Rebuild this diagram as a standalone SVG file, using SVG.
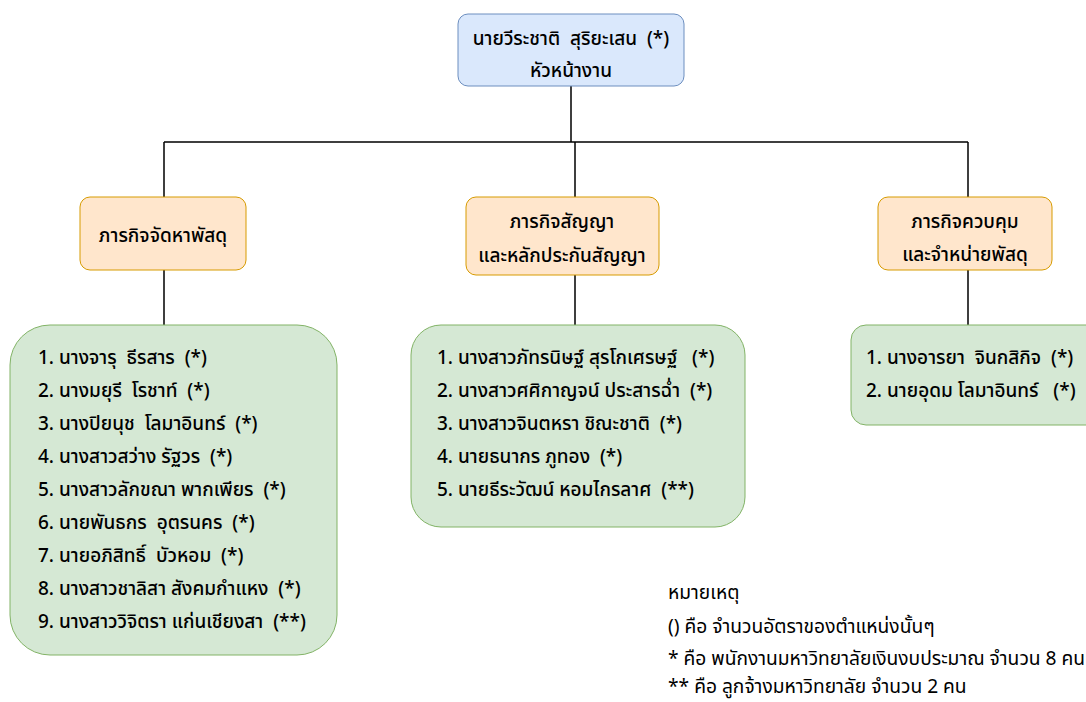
<svg xmlns="http://www.w3.org/2000/svg" width="1086" height="702" viewBox="0 0 1086 702">
<style>
text{font-family:Tahoma,"Noto Sans Thai","Noto Sans","DejaVu Sans",sans-serif;font-size:19px;font-weight:500;fill:#000;white-space:pre}
.c{text-anchor:middle}
.lg{font-size:19.2px;font-weight:400}
.blue{fill:#dae8fc;stroke:#6c8ebf;stroke-width:1}
.org{fill:#ffe6cc;stroke:#d79b00;stroke-width:1}
.grn{fill:#d5e8d4;stroke:#82b366;stroke-width:1}
.ln{stroke:#000;stroke-width:1.5;fill:none}
</style>
<rect width="1086" height="702" fill="#fff"/>
<g id="connectors">
<path class="ln" d="M571 86V142M164 142H968M164 142V197M575 142V197M968 142V197"/>
<path class="ln" d="M164 270V325M575 275V325M968 270V325"/>
</g>
<g id="head">
<rect class="blue" x="458" y="14" width="226" height="72" rx="10"/>
<text class="c" x="571" y="45" xml:space="preserve">นายวีระชาติ  สุริยะเสน  (*)</text>
<text class="c" x="571" y="77">หัวหน้างาน</text>
</g>
<g id="task1">
<rect class="org" x="80" y="197" width="166" height="73" rx="10"/>
<text class="c" x="163" y="242">ภารกิจจัดหาพัสดุ</text>
</g>
<g id="task2">
<rect class="org" x="466" y="197" width="193" height="78" rx="10"/>
<text class="c" x="562" y="228">ภารกิจสัญญา</text>
<text class="c" x="562" y="262">และหลักประกันสัญญา</text>
</g>
<g id="task3">
<rect class="org" x="878" y="197" width="174" height="73" rx="10"/>
<text class="c" x="965" y="228">ภารกิจควบคุม</text>
<text class="c" x="965" y="261">และจำหน่ายพัสดุ</text>
</g>
<g id="staff1" xml:space="preserve">
<rect class="grn" x="10" y="325" width="327" height="330" rx="40"/>
<text x="38" y="364">1. นางจารุ  ธีรสาร  (*)</text>
<text x="38" y="397">2. นางมยุรี  โรชาท์  (*)</text>
<text x="38" y="430">3. นางปิยนุช  โลมาอินทร์  (*)</text>
<text x="38" y="463">4. นางสาวสว่าง รัฐวร  (*)</text>
<text x="38" y="496">5. นางสาวลักขณา พากเพียร  (*)</text>
<text x="38" y="529">6. นายพันธกร  อุตรนคร  (*)</text>
<text x="38" y="562">7. นายอภิสิทธิ์  บัวหอม  (*)</text>
<text x="38" y="595">8. นางสาวชาลิสา สังคมกำแหง  (*)</text>
<text x="38" y="628">9. นางสาววิจิตรา แก่นเชียงสา  (**)</text>
</g>
<g id="staff2" xml:space="preserve">
<rect class="grn" x="411" y="325" width="334" height="202" rx="30"/>
<text x="437" y="364">1. นางสาวภัทรนิษฐ์ สุรโกเศรษฐ์   (*)</text>
<text x="437" y="397">2. นางสาวศศิกาญจน์ ประสารฉ่ำ  (*)</text>
<text x="437" y="430">3. นางสาวจินตหรา ชิณะชาติ  (*)</text>
<text x="437" y="463">4. นายธนากร ภูทอง  (*)</text>
<text x="437" y="496">5. นายธีระวัฒน์ หอมไกรลาศ  (**)</text>
</g>
<g id="staff3" xml:space="preserve">
<rect class="grn" x="851" y="325" width="260" height="100" rx="15"/>
<text x="866" y="364">1. นางอารยา  จินกสิกิจ  (*)</text>
<text x="866" y="397">2. นายอุดม โลมาอินทร์   (*)</text>
</g>
<g id="legend">
<text class="lg" x="668" y="599">หมายเหตุ</text>
<text class="lg" x="668" y="633">() คือ จำนวนอัตราของตำแหน่งนั้นๆ</text>
<text class="lg" x="668" y="665">* คือ พนักงานมหาวิทยาลัยเงินงบประมาณ จำนวน 8 คน</text>
<text class="lg" x="668" y="693">** คือ ลูกจ้างมหาวิทยาลัย จำนวน 2 คน</text>
</g>
</svg>
